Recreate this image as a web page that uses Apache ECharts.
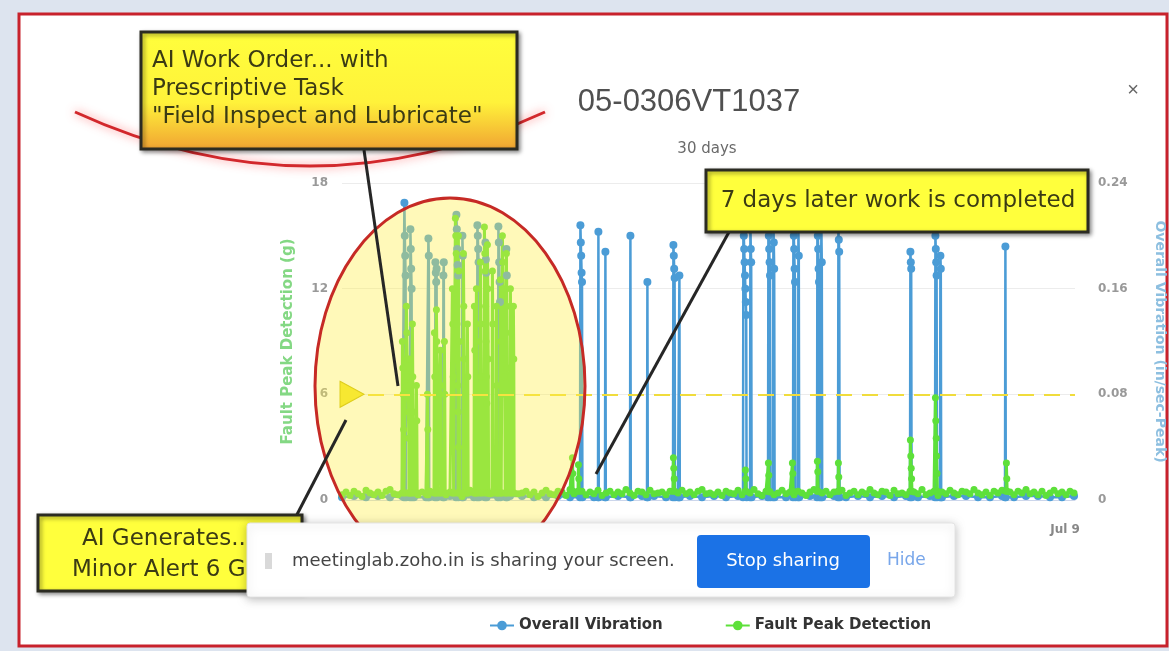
<!DOCTYPE html>
<html lang="en">
<head>
<meta charset="UTF-8">
<title>05-0306VT1037</title>
<script src="https://cdn.jsdelivr.net/npm/echarts@6.0.0/dist/echarts.min.js"></script>
<style>
    html, body { margin: 0; padding: 0; background: #dde4ef; }
    #chart { width: 1169px; height: 651px; }
</style>
</head>
<body>
<div id="chart"></div>
<script>
    // x values are hours since the start of the 30 day window
    const faultBaseStep = 4;
    const faultBase = [
        0.3, 0.45, 0.25, 0.5, 0.35, 0.2, 0.55, 0.4, 0.3, 0.45,
        0.25, 0.5, 0.6, 0.35, 0.3, 0.45, 0.2, 0.4, 0.55, 0.3,
        0.45, 0.35, 0.5, 0.25, 0.4, 0.6, 0.3, 0.45, 0.35, 0.5,
        0.2, 0.4, 0.55, 0.3, 0.45, 0.25, 0.5, 0.35, 0.6, 0.4,
        0.3, 0.45, 0.25, 0.55, 0.35, 0.4, 0.5, 0.3, 0.45, 0.2,
        0.4, 0.55, 0.35, 0.3, 0.5, 0.45, 0.25, 0.6, 0.35, 0.4,
        0.5, 0.3, 0.45, 0.35, 0.55, 0.25, 0.4, 0.5, 0.3, 0.45,
        0.35, 0.6, 0.4, 0.25, 0.5, 0.45, 0.3, 0.55, 0.35, 0.4,
        0.45, 0.3, 0.5, 0.25, 0.4, 0.55, 0.35, 0.45, 0.3, 0.5,
        0.6, 0.35, 0.4, 0.3, 0.45, 0.25, 0.5, 0.4, 0.35, 0.55,
        0.3, 0.45, 0.4, 0.6, 0.35, 0.25, 0.5, 0.45, 0.3, 0.4,
        0.55, 0.35, 0.45, 0.3, 0.5, 0.4, 0.25, 0.45, 0.6, 0.35,
        0.4, 0.5, 0.3, 0.45, 0.35, 0.55, 0.25, 0.4, 0.5, 0.3,
        0.45, 0.35, 0.6, 0.4, 0.3, 0.5, 0.45, 0.25, 0.55, 0.35,
        0.4, 0.3, 0.5, 0.45, 0.35, 0.6, 0.3, 0.4, 0.5, 0.25,
        0.45, 0.35, 0.55, 0.4, 0.3, 0.5, 0.45, 0.35, 0.6, 0.4,
        0.3, 0.45, 0.25, 0.5, 0.4, 0.55, 0.35, 0.45, 0.3, 0.5,
        0.4, 0.6, 0.35, 0.45, 0.3, 0.5, 0.25, 0.4, 0.55, 0.35,
        0.45, 0.3, 0.5, 0.4
    ];
    const vibBaseStep = 12;
    const vibBase = [
        0.002, 0.003, 0.002, 0.003, 0.002, 0.003, 0.002, 0.002, 0.003, 0.003,
        0.002, 0.002, 0.003, 0.002, 0.003, 0.003, 0.002, 0.002, 0.003, 0.002,
        0.003, 0.002, 0.002, 0.003, 0.002, 0.003, 0.003, 0.002, 0.002, 0.003,
        0.002, 0.003, 0.002, 0.003, 0.002, 0.003, 0.003, 0.002, 0.002, 0.003,
        0.002, 0.003, 0.002, 0.003, 0.002, 0.003, 0.002, 0.003, 0.002, 0.003,
        0.002, 0.003, 0.003, 0.002, 0.002, 0.003, 0.002, 0.003, 0.003, 0.002,
        0.002, 0.003
    ];

    // bursts: start hour and the readings taken during the burst
    const vibSpikeHours = [62, 68, 86, 93, 101, 114, 120, 135, 143, 156, 164,
        238, 256, 263, 288, 305, 331, 337, 401, 408, 426, 431, 451, 456, 475, 479, 496,
        568, 593, 598, 663];
    const vibSpikeValues = [
        [0.002, 0.225, 0.2, 0.185, 0.17, 0.002],
        [0.002, 0.205, 0.19, 0.175, 0.16, 0.002],
        [0.002, 0.198, 0.185, 0.002],
        [0.002, 0.18, 0.172, 0.165, 0.175, 0.002],
        [0.002, 0.17, 0.18, 0.002],
        [0.002, 0.216, 0.205, 0.19, 0.178, 0.17, 0.002],
        [0.002, 0.2, 0.185, 0.002],
        [0.002, 0.208, 0.2, 0.19, 0.18, 0.002],
        [0.002, 0.195, 0.182, 0.172, 0.002],
        [0.002, 0.207, 0.195, 0.18, 0.165, 0.15, 0.002],
        [0.002, 0.19, 0.17, 0.002],
        [0.002, 0.208, 0.195, 0.185, 0.172, 0.165, 0.002],
        [0.002, 0.203, 0.002],
        [0.002, 0.188, 0.002],
        [0.002, 0.2, 0.002],
        [0.002, 0.165, 0.002],
        [0.002, 0.193, 0.185, 0.175, 0.168, 0.002],
        [0.002, 0.17, 0.002],
        [0.002, 0.215, 0.2, 0.19, 0.18, 0.17, 0.16, 0.15, 0.14, 0.002],
        [0.002, 0.21, 0.19, 0.18, 0.002],
        [0.002, 0.215, 0.2, 0.19, 0.18, 0.17, 0.002],
        [0.002, 0.21, 0.195, 0.175, 0.002],
        [0.002, 0.215, 0.2, 0.19, 0.175, 0.165, 0.002],
        [0.002, 0.205, 0.185, 0.002],
        [0.002, 0.215, 0.2, 0.19, 0.175, 0.165, 0.002],
        [0.002, 0.205, 0.18, 0.002],
        [0.002, 0.205, 0.197, 0.188, 0.002],
        [0.002, 0.188, 0.18, 0.175, 0.002],
        [0.002, 0.2, 0.19, 0.18, 0.17, 0.002],
        [0.002, 0.185, 0.175, 0.002],
        [0.002, 0.192, 0.002]
    ];
    const faultSpikeHours = [60, 64, 67, 70, 74, 85, 92, 94, 98, 102,
        110, 113, 116, 121, 125, 132, 134, 138, 142, 145, 150, 154,
        158, 160, 164, 168, 171,
        230, 236, 331, 403, 426, 450, 475, 496, 568, 593, 664];
    const faultSpikeValues = [
        [0.4, 9, 7.5, 6, 4, 0.4],
        [0.4, 11, 9.5, 8, 7, 6.5, 5, 3.5, 0.4],
        [0.4, 8, 6.5, 5, 0.4],
        [0.4, 10, 7, 5, 0.4],
        [0.4, 6.5, 4.5, 0.4],
        [0.3, 6, 4, 0.3],
        [0.4, 9.5, 7, 0.4],
        [0.4, 10.8, 9, 7.5, 6, 0.4],
        [0.4, 8.5, 6.5, 0.4],
        [0.4, 9, 6, 0.4],
        [0.4, 12, 10, 7, 0.4],
        [0.4, 16, 15, 14, 12, 10, 8, 6.5, 5, 3, 0.4],
        [0.4, 15, 13, 9, 0.4],
        [0.4, 14, 11, 8, 0.4],
        [0.4, 10, 7, 0.4],
        [0.4, 11, 8.5, 0.4],
        [0.4, 12, 9, 6.5, 0.4],
        [0.4, 13.5, 10, 7, 0.4],
        [0.4, 15.5, 14, 13, 11, 9, 7, 5.5, 0.4],
        [0.4, 14.5, 12, 8, 0.4],
        [0.4, 13, 10, 0.4],
        [0.4, 11, 6.5, 0.4],
        [0.4, 12.5, 9, 0.4],
        [0.4, 15, 13.5, 12, 10, 8, 7, 6, 0.4],
        [0.4, 14, 11, 7.5, 0.4],
        [0.4, 12, 9.5, 0.4],
        [0.4, 11, 8, 0.4],
        [0.5, 2.4, 1.5, 0.5],
        [0.5, 2.0, 1.2, 0.5],
        [0.5, 2.4, 1.8, 1.2, 0.5],
        [0.5, 1.7, 1.2, 0.5],
        [0.5, 2.1, 1.4, 0.5],
        [0.5, 2.1, 1.5, 0.5],
        [0.5, 2.2, 1.6, 0.5],
        [0.5, 2.1, 1.3, 0.5],
        [0.5, 3.4, 2.5, 1.8, 1.2, 0.5],
        [0.5, 5.8, 4.5, 3.5, 2.5, 1.5, 0.5],
        [0.5, 2.1, 1.2, 0.5]
    ];
    const burstStep = 0.4;          // hours between readings inside a burst
    const minorAlert = 6;            // g
    const xLabelHours = [723];
    const xLabelText = ['Jul 9'];

    function buildSeries(base, step, hours, values) {
        let spans = hours.map((h, i) => [h, h + (values[i].length - 1) * burstStep]);
        let pts = [];
        base.forEach(function (v, i) {
            let x = i * step;
            if (!spans.some(s => x >= s[0] - 0.5 && x <= s[1] + 0.5)) pts.push([x, v]);
        });
        hours.forEach(function (h, i) {
            values[i].forEach((v, k) => pts.push([h + k * burstStep, v]));
        });
        pts.sort((a, b) => a[0] - b[0]);
        return pts;
    }

    const vibData = buildSeries(vibBase, vibBaseStep, vibSpikeHours, vibSpikeValues);
    const faultData = buildSeries(faultBase, faultBaseStep, faultSpikeHours, faultSpikeValues);

    const boxText = '#3b3b14';
    const boxFont = '"DejaVu Sans", sans-serif';
    const uiFont = '"DejaVu Sans", sans-serif';
    const pointer = {stroke: '#262626', lineWidth: 3};
    const boxShadow = {shadowBlur: 4, shadowOffsetX: 2, shadowOffsetY: 2, shadowColor: 'rgba(0,0,0,0.4)'};

    const graphics = [
        // frame
        {type: 'rect', z: -1, shape: {x: 19, y: 14, width: 1148, height: 632},
            style: {fill: '#ffffff', stroke: '#c8222c', lineWidth: 3}},
        {type: 'text', z: 5, x: 1133, y: 90,
            style: {text: '×', font: '20px "Liberation Sans"', fill: '#666', textAlign: 'center', textVerticalAlign: 'middle'}},
        // red arc under the work order box
        {type: 'bezierCurve', z: 50, shape: {x1: 75, y1: 112, x2: 545, y2: 112, cpx1: 310, cpy1: 220},
            style: {stroke: '#d2282c', lineWidth: 3, fill: null, shadowBlur: 10, shadowColor: 'rgba(255,90,90,0.8)'}},
        // highlighted region
        {type: 'ellipse', z: 60, shape: {cx: 450, cy: 386, rx: 135, ry: 188},
            style: {fill: 'rgba(255,240,70,0.38)', stroke: '#c62a25', lineWidth: 3}},
        // pointers
        {type: 'line', z: 70, shape: {x1: 364, y1: 150, x2: 398, y2: 386}, style: pointer},
        {type: 'line', z: 70, shape: {x1: 729, y1: 232, x2: 596, y2: 474}, style: pointer},
        {type: 'line', z: 70, shape: {x1: 346, y1: 420, x2: 290, y2: 528}, style: pointer},
        // work order box
        {type: 'rect', z: 80, shape: {x: 141, y: 32, width: 376, height: 117},
            style: Object.assign({
                fill: new echarts.graphic.LinearGradient(0, 0, 0, 1, [
                    {offset: 0, color: '#ffff3c'},
                    {offset: 0.6, color: '#fff23a'},
                    {offset: 1, color: '#f0a232'}
                ]),
                stroke: '#2b2b22', lineWidth: 3
            }, boxShadow)},
        {type: 'text', z: 81, x: 152, y: 47,
            style: {text: 'AI Work Order... with\nPrescriptive Task\n"Field Inspect and Lubricate"',
                font: '23px ' + boxFont, fill: boxText, lineHeight: 28}},
        // completed box
        {type: 'rect', z: 80, shape: {x: 706, y: 170, width: 382, height: 62},
            style: Object.assign({fill: '#ffff3c', stroke: '#2b2b22', lineWidth: 3}, boxShadow)},
        {type: 'text', z: 81, x: 898, y: 201,
            style: {text: '7 days later work is completed', font: '23px ' + boxFont, fill: boxText,
                textAlign: 'center', textVerticalAlign: 'middle'}},
        // alert box
        {type: 'rect', z: 80, shape: {x: 38, y: 515, width: 264, height: 76},
            style: Object.assign({fill: '#ffff3c', stroke: '#2b2b22', lineWidth: 3}, boxShadow)},
        {type: 'text', z: 81, x: 82, y: 539,
            style: {text: 'AI Generates...', font: '23px ' + boxFont, fill: boxText, textVerticalAlign: 'middle'}},
        {type: 'text', z: 81, x: 72, y: 570,
            style: {text: "Minor Alert 6 G's", font: '23px ' + boxFont, fill: boxText, textVerticalAlign: 'middle'}},
        // screen share bar
        {type: 'rect', z: 90, shape: {x: 247, y: 523, width: 708, height: 74, r: 3},
            style: {fill: '#ffffff', stroke: '#e4e4e4', lineWidth: 1,
                shadowBlur: 10, shadowOffsetY: 2, shadowColor: 'rgba(0,0,0,0.25)'}},
        {type: 'rect', z: 91, shape: {x: 265, y: 553, width: 7, height: 16}, style: {fill: '#d9d9d9'}},
        {type: 'text', z: 91, x: 292, y: 561,
            style: {text: 'meetinglab.zoho.in is sharing your screen.', font: '18px ' + uiFont, fill: '#454545',
                textVerticalAlign: 'middle'}},
        {type: 'rect', z: 91, shape: {x: 697, y: 535, width: 173, height: 53, r: 4}, style: {fill: '#1b72e6'}},
        {type: 'text', z: 92, x: 783, y: 561,
            style: {text: 'Stop sharing', font: '18px ' + uiFont, fill: '#ffffff',
                textAlign: 'center', textVerticalAlign: 'middle'}},
        {type: 'text', z: 91, x: 887, y: 561,
            style: {text: 'Hide', font: '17px ' + uiFont, fill: '#78a6ea', textVerticalAlign: 'middle'}}
    ];

    const myChart = echarts.init(document.getElementById('chart'));
    myChart.setOption({
        animation: false,
        backgroundColor: 'transparent',
        title: [{
            text: '05-0306VT1037',
            left: 684, top: 82, textAlign: 'center',
            textStyle: {fontSize: 31, fontWeight: 'normal', color: '#505050', fontFamily: 'Liberation Sans'}
        }, {
            text: '30 days',
            left: 702, top: 137, textAlign: 'center',
            textStyle: {fontSize: 15, fontWeight: 'normal', color: '#6a6a6a', fontFamily: 'DejaVu Sans'}
        }],
        legend: {
            left: 484, top: 613, itemGap: 62, itemWidth: 24, itemHeight: 12,
            data: ['Overall Vibration', 'Fault Peak Detection'],
            textStyle: {fontSize: 15, fontWeight: 'bold', color: '#333', fontFamily: 'DejaVu Sans'}
        },
        grid: {left: 342, right: 94, top: 183, bottom: 151, outerBoundsMode: 'none'},
        xAxis: {
            type: 'value', min: 0, max: 733,
            splitLine: {show: false},
            axisTick: {show: false},
            axisLine: {lineStyle: {color: '#ccd6eb'}},
            axisLabel: {
                customValues: xLabelHours,
                formatter: v => xLabelText[xLabelHours.indexOf(v)] || '',
                color: '#888', fontSize: 12, fontWeight: 'bold', margin: 24, fontFamily: 'DejaVu Sans'
            }
        },
        yAxis: [{
            type: 'value', min: 0, max: 18, interval: 6,
            name: 'Fault Peak Detection (g)', nameLocation: 'middle', nameGap: 46, nameRotate: 90,
            nameTextStyle: {color: '#84d884', fontSize: 15, fontWeight: 'bold', fontFamily: 'DejaVu Sans'},
            axisLine: {show: false},
            axisTick: {show: false},
            axisLabel: {color: '#999', fontSize: 12, fontWeight: 'bold', margin: 14, fontFamily: 'DejaVu Sans'},
            splitLine: {lineStyle: {color: '#ececec'}}
        }, {
            type: 'value', min: 0, max: 0.24, interval: 0.08,
            name: 'Overall Vibration (in/sec-Peak)', nameLocation: 'middle', nameGap: 78, nameRotate: -90,
            nameTextStyle: {color: '#8dbfe0', fontSize: 14, fontWeight: 'bold', fontFamily: 'DejaVu Sans'},
            axisLine: {show: false},
            axisTick: {show: false},
            axisLabel: {color: '#999', fontSize: 12, fontWeight: 'bold', margin: 23, fontFamily: 'DejaVu Sans'},
            splitLine: {show: false}
        }],
        series: [{
            name: 'Overall Vibration',
            type: 'line', yAxisIndex: 1,
            data: vibData,
            color: '#4b9cd6',
            symbol: 'circle', symbolSize: 8,
            lineStyle: {width: 2.5},
            clip: false
        }, {
            name: 'Fault Peak Detection',
            type: 'line', yAxisIndex: 0,
            data: faultData,
            color: '#5de03a',
            symbol: 'circle', symbolSize: 7,
            lineStyle: {width: 3},
            clip: false,
            markLine: {
                silent: true, symbol: 'none',
                label: {show: false},
                lineStyle: {color: '#f0dc3c', width: 2, type: [16, 10]},
                data: [{yAxis: minorAlert}]
            },
            markPoint: {
                silent: true,
                symbol: 'path://M0,0 L10,6 L0,12 Z', symbolSize: [24, 26],
                itemStyle: {color: '#f2e424', borderColor: '#c9b800', borderWidth: 1},
                label: {show: false},
                data: [{coord: [10, minorAlert]}]
            }
        }],
        graphic: graphics
    });
</script>
</body>
</html>
